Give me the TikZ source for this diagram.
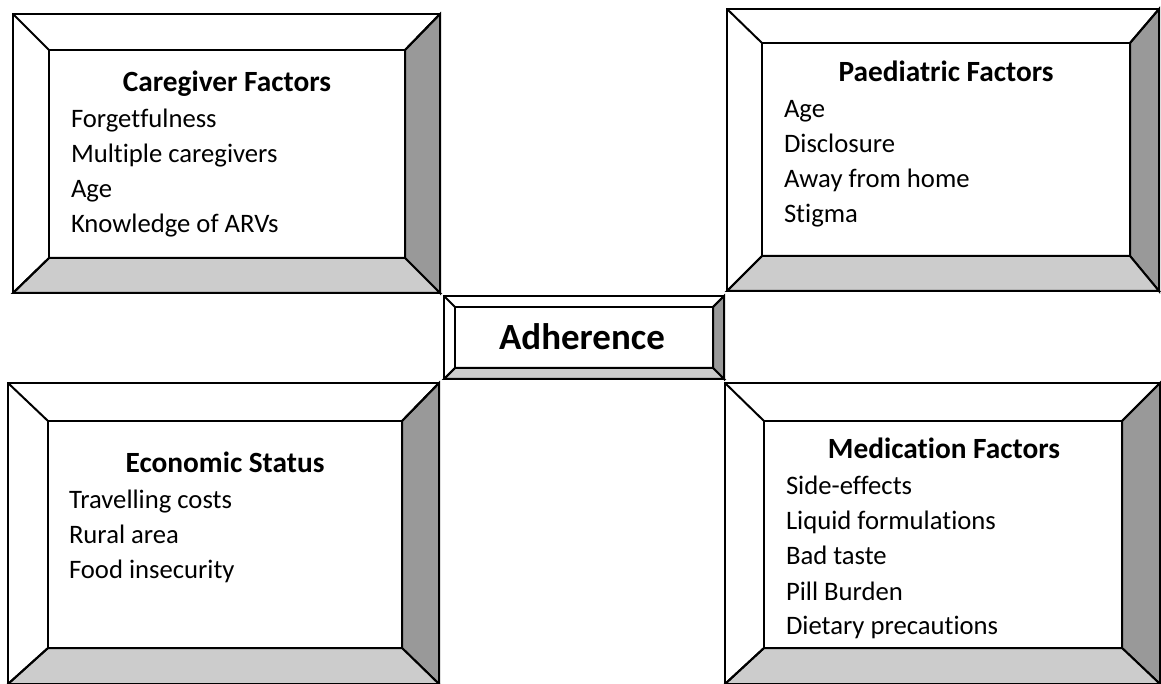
\documentclass[tikz,border=0pt]{standalone}
\usepackage{fontspec}
\setmainfont{Carlito}[Ligatures=NoCommon]
\definecolor{bevdark}{HTML}{999999}
\definecolor{bevlight}{HTML}{CCCCCC}

% bevelled frame: outer x1,y1,x2,y2 then inner x1,y1,x2,y2
\newcommand{\bevelframe}[8]{%
  \fill[white] (#1,#2) rectangle (#3,#4);
  \filldraw[fill=bevdark] (#3,#2) -- (#7,#6) -- (#7,#8) -- (#3,#4) -- cycle;
  \filldraw[fill=bevlight] (#1,#4) -- (#5,#8) -- (#7,#8) -- (#3,#4) -- cycle;
  \draw (#1,#2) -- (#5,#6) (#3,#2) -- (#7,#6) (#1,#4) -- (#5,#8);
  \draw (#5,#6) rectangle (#7,#8);
  \draw (#1,#2) rectangle (#3,#4);
}

\begin{document}
\begin{tikzpicture}[x=0.75pt, y=-0.75pt, line width=1.5pt, line join=miter,
  head/.style={font=\fontsize{22}{26}\selectfont\bfseries, anchor=base, inner sep=0pt},
  item/.style={font=\fontsize{20}{24}\selectfont, anchor=base west, inner sep=0pt},
  big/.style={font=\fontsize{27.7}{32}\selectfont\bfseries, anchor=base, inner sep=0pt}
]
\useasboundingbox (0,0) rectangle (1161,684);

% frames
\bevelframe{13}{14}{440}{293}{49}{50}{405}{258}
\bevelframe{727}{9}{1159}{291}{762}{43}{1130}{256}
\bevelframe{444}{296}{724}{379}{455}{307}{713}{368}
\bevelframe{8}{383}{439}{684}{48}{421}{402}{648}
\bevelframe{725}{383}{1160}{684}{764}{421}{1122}{648}

% caregiver
\node[head] (care) at (227,92) {Caregiver Factors};
\node[item] (care1) at (70,128) {Forgetfulness};
\node[item] (care2) at (70,163) {Multiple caregivers};
\node[item] (care3) at (70,198) {Age};
\node[item] (care4) at (70,233) {Knowledge of ARVs};

% paediatric
\node[head] (paed) at (946,82) {Paediatric Factors};
\node[item] (paed1) at (783,118) {Age};
\node[item] (paed2) at (783,153) {Disclosure};
\node[item] (paed3) at (783,188) {Away from home};
\node[item] (paed4) at (783,223) {Stigma};

% centre
\node[big] (adh) at (582,350) {Adherence};

% economic
\node[head] (econ) at (225,472) {Economic Status};
\node[item] (econ1) at (68,508) {Travelling costs};
\node[item] (econ2) at (68,543) {Rural area};
\node[item] (econ3) at (68,578) {Food insecurity};

% medication
\node[head] (med) at (944,458) {Medication Factors};
\node[item] (med1) at (785,494) {Side-effects};
\node[item] (med2) at (785,529) {Liquid formulations};
\node[item] (med3) at (785,564) {Bad taste};
\node[item] (med4) at (785,600) {Pill Burden};
\node[item] (med5) at (785,634) {Dietary precautions};
\end{tikzpicture}
\end{document}
